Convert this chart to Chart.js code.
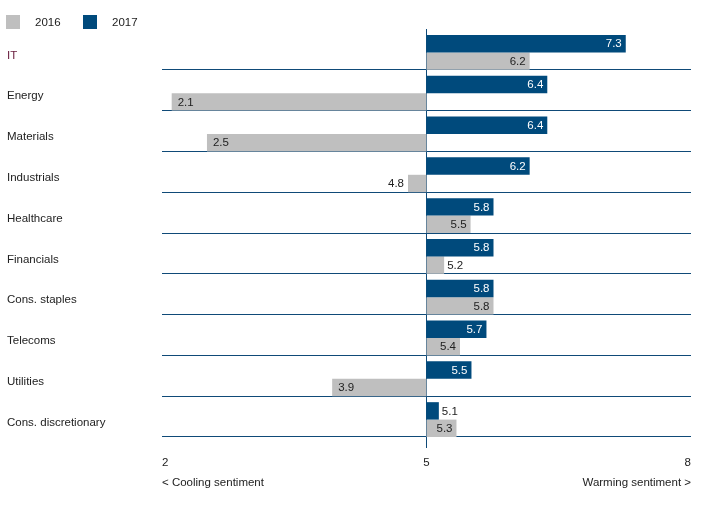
<!DOCTYPE html>
<html>
<head>
<meta charset="utf-8">
<script src="https://cdn.jsdelivr.net/npm/chart.js@4.4.1/dist/chart.umd.min.js"></script>
<style>
html,body{margin:0;padding:0;background:#ffffff;}
canvas{display:block;}
</style>
</head>
<body>
<canvas id="c" width="702" height="507"></canvas>
<script>
// ---- data ----
const categories = ['IT','Energy','Materials','Industrials','Healthcare','Financials','Cons. staples','Telecoms','Utilities','Cons. discretionary'];
const values2017 = [7.26, 6.37, 6.37, 6.17, 5.76, 5.76, 5.76, 5.68, 5.51, 5.14];
const values2016 = [6.17, 2.11, 2.51, 4.79, 5.50, 5.20, 5.76, 5.38, 3.93, 5.34];
const baseline = 5;
const xTicks = [2, 5, 8];
const xCaptions = ['< Cooling sentiment', '', 'Warming sentiment >'];
const seriesNames = ['2017', '2016'];

// ---- style ----
const FONT = "'Liberation Sans', Arial, sans-serif";
const FS = 11.5;
const BLUE = '#004a7c';
const GRAY = '#bfbfbf';
const LINE = '#0f4a78';
const TEXT = '#222222';
const IT_COLOR = '#6b2140';

Chart.defaults.font.family = FONT;
Chart.defaults.font.size = FS;
Chart.defaults.color = TEXT;

const valueLabels = {
  id: 'valueLabels',
  afterDatasetsDraw(chart) {
    const ctx = chart.ctx;
    const xs = chart.scales.x;
    const p0 = xs.getPixelForValue(baseline);
    ctx.save();
    ctx.font = FS + 'px ' + FONT;
    ctx.textBaseline = 'middle';
    chart.data.datasets.forEach((ds, di) => {
      const meta = chart.getDatasetMeta(di);
      const onDark = di === 0;
      meta.data.forEach((bar, i) => {
        const v = ds.data[i][1];
        const txt = v.toFixed(1);
        const tw = ctx.measureText(txt).width;
        const px = xs.getPixelForValue(v);
        const w = Math.abs(px - p0);
        const pos = v >= baseline;
        const y = bar.y + 0.5;
        if (w >= tw + 10) {
          ctx.fillStyle = onDark ? '#ffffff' : TEXT;
          if (pos) { ctx.textAlign = 'right'; ctx.fillText(txt, px - 4, y); }
          else { ctx.textAlign = 'left'; ctx.fillText(txt, px + 6, y); }
        } else {
          ctx.fillStyle = TEXT;
          if (pos) { ctx.textAlign = 'left'; ctx.fillText(txt, px + 3, y); }
          else { ctx.textAlign = 'right'; ctx.fillText(txt, px - 4, y); }
        }
      });
    });
    ctx.restore();
  }
};

const topLegend = {
  id: 'topLegend',
  afterDraw(chart) {
    const ctx = chart.ctx;
    ctx.save();
    ctx.font = FS + 'px ' + FONT;
    ctx.textBaseline = 'middle';
    ctx.textAlign = 'left';
    let x = 6;
    [1, 0].forEach(di => {
      const ds = chart.data.datasets[di];
      ctx.fillStyle = ds.backgroundColor;
      ctx.fillRect(Math.round(x), 15, 14, 14);
      ctx.fillStyle = TEXT;
      ctx.fillText(ds.label, Math.round(x) + 29, 22.5);
      x += 29 + ctx.measureText(ds.label).width + 22;
    });
    ctx.restore();
  }
};

new Chart(document.getElementById('c'), {
  type: 'bar',
  data: {
    labels: categories,
    datasets: [
      {
        label: seriesNames[0],
        data: values2017.map(v => [baseline, v]),
        backgroundColor: BLUE,
        categoryPercentage: 23 / 41,
        barPercentage: 17.5 / 11.5
      },
      {
        label: seriesNames[1],
        data: values2016.map(v => [baseline, v]),
        backgroundColor: GRAY,
        categoryPercentage: 47 / 41,
        barPercentage: 17.5 / 23.5
      }
    ]
  },
  options: {
    indexAxis: 'y',
    responsive: false,
    animation: false,
    devicePixelRatio: 1,
    layout: { padding: { left: 7, right: 11, top: 29, bottom: 9 } },
    plugins: {
      legend: { display: false },
      tooltip: { enabled: false }
    },
    scales: {
      x: {
        type: 'linear',
        min: 2,
        max: 8,
        afterBuildTicks(scale) { scale.ticks = xTicks.map(v => ({ value: v })); },
        border: { display: false },
        grid: {
          color: (c) => (c.tick && c.tick.value === baseline) ? LINE : 'rgba(0,0,0,0)',
          lineWidth: 1,
          drawTicks: true,
          tickLength: 11
        },
        ticks: {
          align: 'inner',
          padding: 5,
          maxRotation: 0,
          autoSkip: false,
          font: { size: FS, lineHeight: '20px' },
          color: TEXT,
          callback: (v, i) => {
            const k = xTicks.indexOf(v);
            return [String(v), xCaptions[k] || ''];
          }
        }
      },
      y: {
        afterFit(scale) { scale.width = 155; },
        border: { display: false },
        grid: {
          offset: true,
          drawTicks: false,
          color: (c) => c.index === 0 ? 'rgba(0,0,0,0)' : LINE,
          lineWidth: 1
        },
        ticks: {
          crossAlign: 'far',
          labelOffset: 6,
          padding: 0,
          autoSkip: false,
          color: (c) => c.index === 0 ? IT_COLOR : TEXT
        }
      }
    }
  },
  plugins: [valueLabels, topLegend]
});
</script>
</body>
</html>
